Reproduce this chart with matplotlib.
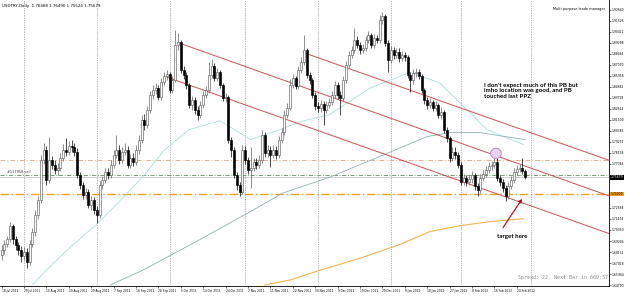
import numpy as np
import matplotlib
matplotlib.use("Agg")
import matplotlib.pyplot as plt
import matplotlib.transforms as mtransforms
from matplotlib.patches import Ellipse

# daily USDTRY candles (open of each bar = previous close)
first_open = 1.678
closes = [1.683,1.689,1.694,1.708,1.694,1.688,1.683,1.677,1.681,1.671,
          1.689,1.702,1.719,1.734,1.774,1.784,1.754,1.774,1.769,1.764,
          1.766,1.776,1.784,1.782,1.788,1.787,1.782,1.759,1.749,1.739,
          1.742,1.729,1.734,1.724,1.719,1.749,1.754,1.762,1.759,1.769,
          1.779,1.784,1.774,1.782,1.784,1.769,1.776,1.772,1.784,1.795,
          1.815,1.810,1.825,1.840,1.845,1.847,1.838,1.853,1.859,1.861,
          1.845,1.855,1.891,1.894,1.865,1.860,1.850,1.830,1.835,1.825,
          1.820,1.830,1.840,1.845,1.860,1.869,1.857,1.863,1.850,1.837,
          1.838,1.795,1.784,1.759,1.749,1.742,1.784,1.774,1.764,1.766,
          1.772,1.769,1.774,1.800,1.781,1.784,1.779,1.784,1.779,1.795,
          1.803,1.820,1.827,1.850,1.857,1.849,1.865,1.873,1.885,1.860,
          1.855,1.840,1.829,1.827,1.831,1.825,1.830,1.833,1.840,1.850,
          1.840,1.837,1.855,1.870,1.880,1.885,1.896,1.891,1.885,1.888,
          1.896,1.901,1.891,1.898,1.896,1.916,1.920,1.893,1.875,1.885,
          1.880,1.883,1.877,1.880,1.878,1.860,1.855,1.862,1.863,1.859,
          1.845,1.835,1.830,1.833,1.827,1.830,1.820,1.823,1.805,1.797,
          1.776,1.782,1.779,1.769,1.752,1.756,1.752,1.755,1.759,1.748,
          1.744,1.756,1.760,1.764,1.768,1.769,1.772,1.756,1.752,1.746,
          1.738,1.748,1.754,1.762,1.765,1.766,1.763,1.757]
highs = [1.688,1.693,1.698,1.712,1.710,1.698,1.691,1.687,1.686,1.685,
         1.693,1.706,1.724,1.738,1.779,1.792,1.788,1.798,1.778,1.774,
         1.771,1.781,1.790,1.797,1.794,1.795,1.792,1.786,1.762,1.752,
         1.746,1.745,1.738,1.737,1.728,1.753,1.758,1.766,1.766,1.774,
         1.784,1.800,1.789,1.787,1.791,1.788,1.780,1.781,1.789,1.800,
         1.820,1.821,1.829,1.844,1.850,1.852,1.850,1.857,1.863,1.865,
         1.863,1.859,1.906,1.903,1.896,1.869,1.863,1.852,1.839,1.838,
         1.829,1.834,1.844,1.849,1.873,1.876,1.872,1.867,1.865,1.852,
         1.842,1.840,1.798,1.787,1.762,1.752,1.789,1.788,1.777,1.787,
         1.776,1.776,1.779,1.805,1.803,1.789,1.788,1.789,1.788,1.799,
         1.807,1.825,1.832,1.856,1.861,1.859,1.869,1.878,1.901,1.888,
         1.863,1.857,1.843,1.833,1.835,1.834,1.834,1.837,1.844,1.854,
         1.853,1.844,1.859,1.874,1.884,1.890,1.908,1.900,1.894,1.892,
         1.900,1.905,1.903,1.902,1.901,1.921,1.924,1.922,1.896,1.890,
         1.889,1.888,1.887,1.884,1.883,1.880,1.863,1.866,1.867,1.866,
         1.861,1.847,1.838,1.837,1.835,1.834,1.832,1.828,1.825,1.808,
         1.799,1.787,1.787,1.782,1.772,1.760,1.759,1.759,1.763,1.761,
         1.751,1.760,1.764,1.768,1.772,1.773,1.776,1.778,1.759,1.755,
         1.749,1.752,1.758,1.766,1.769,1.770,1.776,1.765]
lows = [1.673,1.679,1.686,1.691,1.689,1.683,1.678,1.671,1.673,1.665,
        1.668,1.686,1.698,1.715,1.731,1.770,1.749,1.751,1.765,1.760,
        1.759,1.763,1.773,1.778,1.779,1.782,1.778,1.756,1.745,1.735,
        1.735,1.726,1.724,1.720,1.711,1.716,1.745,1.751,1.755,1.756,
        1.766,1.776,1.770,1.771,1.779,1.766,1.766,1.768,1.769,1.780,
        1.792,1.805,1.807,1.822,1.836,1.841,1.835,1.835,1.850,1.855,
        1.842,1.842,1.853,1.885,1.862,1.856,1.846,1.827,1.825,1.821,
        1.815,1.817,1.827,1.837,1.842,1.857,1.854,1.854,1.847,1.834,
        1.833,1.792,1.777,1.756,1.744,1.738,1.740,1.770,1.760,1.746,
        1.763,1.765,1.766,1.771,1.777,1.777,1.767,1.776,1.775,1.776,
        1.792,1.800,1.817,1.825,1.847,1.846,1.846,1.862,1.870,1.857,
        1.851,1.837,1.825,1.823,1.823,1.810,1.822,1.827,1.830,1.837,
        1.836,1.820,1.834,1.852,1.867,1.877,1.882,1.887,1.881,1.882,
        1.884,1.893,1.888,1.888,1.893,1.893,1.912,1.890,1.863,1.872,
        1.876,1.877,1.873,1.874,1.874,1.857,1.843,1.851,1.858,1.856,
        1.842,1.831,1.826,1.827,1.824,1.824,1.817,1.816,1.802,1.793,
        1.772,1.773,1.775,1.766,1.749,1.749,1.748,1.749,1.751,1.744,
        1.738,1.741,1.753,1.757,1.761,1.764,1.766,1.753,1.748,1.742,
        1.733,1.735,1.745,1.751,1.759,1.762,1.760,1.755]

date_labels = ["18 Jul 2011", "29 Jul 2011", "10 Aug 2011", "19 Aug 2011", "29 Aug 2011",
               "7 Sep 2011", "16 Sep 2011", "28 Sep 2011", "5 Oct 2011", "14 Oct 2011",
               "24 Oct 2011", "2 Nov 2011", "11 Nov 2011", "22 Nov 2011", "30 Nov 2011",
               "9 Dec 2011", "19 Dec 2011", "29 Dec 2011", "9 Jan 2012", "18 Jan 2012",
               "27 Jan 2012", "8 Feb 2012", "16 Feb 2012", "24 Feb 2012"]
# the price scale (the labels hidden under the two price boxes are left out)
price_ticks = ["1.92640", "1.91526", "1.90412", "1.89298", "1.88184", "1.87070", "1.85956",
               "1.84842", "1.83728", "1.82614", "1.81500", "1.80386", "1.79272", "1.78158",
               "1.77044", "1.72588", "1.71474", "1.70360",
               "1.69246", "1.68132", "1.67018", "1.65904", "1.64790"]
month_grid = [8, 34, 60, 87, 113, 139, 164, 189]

# moving averages (bar, price)
ma_fast_bars = [11, 16, 24.5, 35, 46, 51, 58, 67, 78, 89, 99.5, 106.6, 117, 131.6, 146, 156.6, 163.8, 173.4, 186.3]
ma_fast_vals = [1.648, 1.663, 1.686, 1.712, 1.744, 1.759, 1.784, 1.805, 1.814, 1.795, 1.805, 1.813, 1.820, 1.847, 1.863, 1.852, 1.832, 1.805, 1.790]
ma_mid_bars = [38.8, 50.5, 70.9, 88.8, 100.5, 117.3, 137.7, 152, 160.2, 170.9, 179.8, 187]
ma_mid_vals = [1.648, 1.663, 1.694, 1.722, 1.741, 1.757, 1.781, 1.798, 1.802, 1.802, 1.798, 1.795]
ma_slow_bars = [94, 103, 113.8, 128, 142.3, 153, 163.8, 174.5, 186.3]
ma_slow_vals = [1.648, 1.653, 1.663, 1.675, 1.689, 1.702, 1.708, 1.712, 1.715]

# trend channel (start bar, start price, end bar, end price)
channel_top = [107.7, 1.883, 217, 1.774]
channel_mid = [63.0, 1.893, 217, 1.738]
channel_low = [59.1, 1.858, 217, 1.700]

level_salmon = 1.774
level_green = 1.759
level_orange = 1.740
last_price = 1.75679

opens = [first_open] + closes[:-1]
o = np.array(opens)
c = np.array(closes)
h = np.array(highs)
l = np.array(lows)
x = np.arange(len(c))
up = c >= o

fig = plt.figure(figsize=(6.25, 2.96), dpi=100)
ax = fig.add_axes([0, 10 / 296, 609 / 625, 286 / 296])
ax.set_xlim(-0.54, 216.96)
ax.set_ylim(1.647, 1.936)

for g in month_grid:
    ax.axvline(g, color="#707070", lw=0.5, ls=(0, (1, 1.5)), zorder=0)

ax.axhline(level_salmon, color="#e8b090", lw=0.7, ls=(0, (5, 2, 1, 2)), zorder=1)
ax.axhline(level_green, color="#5f8f5f", lw=0.6, ls=(0, (5, 2, 1, 2)), zorder=1)
ax.axhline(last_price, color="#c8c8c8", lw=0.6, zorder=1)
ax.axhline(level_orange, color="#f0a020", lw=1.0, ls=(0, (6, 2, 1, 2)), zorder=1)

ax.plot(ma_fast_bars, ma_fast_vals, color="#a9dede", lw=0.6, zorder=2)
ax.plot(ma_mid_bars, ma_mid_vals, color="#8fb0b0", lw=0.6, zorder=2)
ax.plot(ma_slow_bars, ma_slow_vals, color="#f0b450", lw=0.8, zorder=2)

for ch in (channel_top, channel_mid, channel_low):
    ax.plot([ch[0], ch[2]], [ch[1], ch[3]], color="#d05050", lw=0.7, zorder=3)

# candles
ax.vlines(x[up], l[up], h[up], color="#606060", lw=0.5, zorder=4)
ax.vlines(x[~up], l[~up], h[~up], color="black", lw=0.5, zorder=4)
body = np.maximum(np.abs(c - o), 0.0006)
ax.bar(x[up], body[up], bottom=np.minimum(o, c)[up], width=0.72,
       color="white", edgecolor="#606060", linewidth=0.45, zorder=5)
ax.bar(x[~up], body[~up], bottom=np.minimum(o, c)[~up], width=0.72,
       color="black", edgecolor="black", linewidth=0.45, zorder=5)

# marked touch
ax.add_patch(Ellipse((176.6, 1.781), 3.8, 0.0105, facecolor="#e6d2f2",
                     edgecolor="#b080d0", lw=0.6, zorder=6))

ax.text(172.3, 1.852, "I don't expect much of this PB but\nimho location was good, and PB\ntouched last PPZ",
        fontsize=4.4, family="Lato", fontweight="bold", va="top", ha="left",
        linespacing=1.05, zorder=7)
ax.annotate("", xy=(185.9, 1.735), xytext=(179.1, 1.706),
            arrowprops=dict(arrowstyle="-|>", color="#c00000", lw=0.8,
                            mutation_scale=5, shrinkA=0, shrinkB=0), zorder=7)
ax.text(182.3, 1.697, "target here", fontsize=4.4, family="Lato", fontweight="bold",
        ha="center", va="center", zorder=7)

ax.text(0.003, 0.985, "USDTRY,Daily  1.76468 1.76490 1.75524 1.75679", transform=ax.transAxes,
        fontsize=2.9, va="top", ha="left")
ax.text(0.993, 0.97, "Multi purpose trade manager", transform=ax.transAxes,
        fontsize=2.5, va="center", ha="right")
ax.text(2, level_green + 0.003, "#117958 sell", fontsize=2.5, va="center", ha="left", color="#303030")
ax.text(0.998, 0.02, "Spread: 22  Next Bar in 669:37", transform=ax.transAxes,
        fontsize=3.6, family="DejaVu Sans Mono", color="#8a8a8a", ha="right", va="bottom")

# axes styling like a trading terminal
ax.spines["top"].set_visible(False)
ax.spines["left"].set_visible(False)
ax.spines["right"].set_linewidth(0.6)
ax.spines["bottom"].set_linewidth(0.6)
ax.yaxis.tick_right()
ax.set_yticks([float(t) for t in price_ticks])
ax.set_yticklabels(price_ticks)
ax.tick_params(axis="y", labelsize=2.2, length=1.2, width=0.4, pad=0.5)
ax.set_xticks(np.arange(len(date_labels)) * 8)
ax.set_xticklabels(date_labels, ha="left")
ax.tick_params(axis="x", labelsize=2.1, length=1.5, width=0.4, pad=0.8)

trans = mtransforms.blended_transform_factory(ax.transAxes, ax.transData)
ax.text(1.003, last_price, "1.75679", transform=trans, fontsize=2.2, color="white",
        va="center", ha="left", bbox=dict(boxstyle="square,pad=0.15", fc="black", ec="none"))
ax.text(1.003, level_orange, "1.74000", transform=trans, fontsize=2.2, color="black",
        va="center", ha="left", bbox=dict(boxstyle="square,pad=0.15", fc="#f0a020", ec="none"))

fig.savefig("out.png", dpi=100)
